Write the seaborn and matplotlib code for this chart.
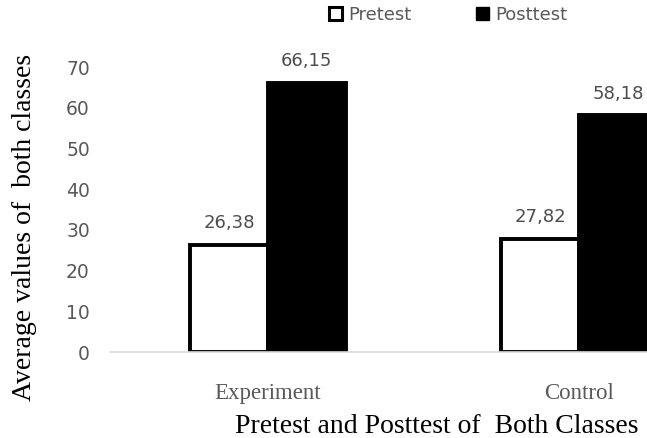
import matplotlib
matplotlib.use("Agg")
import matplotlib.pyplot as plt
import seaborn as sns
import pandas as pd
from matplotlib.patches import Patch

# Mean scores of both classes
classes = ["Experiment", "Control"]
tests = ["Pretest", "Posttest"]
pretest = [26.38, 27.82]
posttest = [66.15, 58.18]
y_ticks = [0, 10, 20, 30, 40, 50, 60, 70]

df = pd.DataFrame({
    "Class": classes * 2,
    "Test": [tests[0]] * len(classes) + [tests[1]] * len(classes),
    "Score": pretest + posttest,
})

sns.set_theme(style="white")
plt.rcParams["font.family"] = ["DejaVu Sans"]

fig = plt.figure(figsize=(6.47, 4.38), dpi=100)
ax = fig.add_axes([0.170, 0.1963, 0.830, 0.6507])

sns.barplot(data=df, x="Class", y="Score", hue="Test", order=classes,
            hue_order=tests, palette=["white", "black"], width=0.5,
            edgecolor="black", linewidth=2.8, errorbar=None, ax=ax,
            legend=False)

ax.set_xlim(-0.508, 1.219)
ax.set_ylim(0, 70)
ax.set_yticks(y_ticks)
ax.set_yticklabels([str(t) for t in y_ticks], color="#595959", fontsize=13.5)
ax.tick_params(axis="y", length=0, pad=14.5)
ax.tick_params(axis="x", length=0, pad=22)
for lab in ax.get_xticklabels():
    lab.set_fontfamily("Liberation Serif")
    lab.set_fontsize(16.5)
    lab.set_color("#595959")

for side in ["left", "right", "top"]:
    ax.spines[side].set_visible(False)
ax.spines["bottom"].set_color("#d9d9d9")
ax.spines["bottom"].set_linewidth(1.2)

# Value labels with comma decimals
for cont in ax.containers:
    vals = [b.get_height() for b in cont]
    ax.bar_label(cont, labels=[f"{v:.2f}".replace(".", ",") for v in vals],
                 padding=9, fontsize=13, color="#4d4d4d", clip_on=False)

ax.set_xlabel("Pretest and Posttest of  Both Classes", fontfamily="Liberation Serif",
              fontsize=20, color="black", va="center", ha="center")
ax.xaxis.set_label_coords(0.609, -0.262)
ax.set_ylabel("Average values of  both classes", fontfamily="Liberation Serif",
              fontsize=20, color="black", va="center", ha="center")
ax.yaxis.set_label_coords(-0.160, 0.4386)

handles = [Patch(facecolor="white", edgecolor="black", linewidth=2.2, label="Pretest"),
           Patch(facecolor="black", edgecolor="black", label="Posttest")]
fig.legend(handles=handles, loc="center", bbox_to_anchor=(0.693, 0.966), ncol=2,
           frameon=False, fontsize=13, handlelength=0.7, handleheight=0.7,
           handletextpad=0.35, columnspacing=3.6, labelcolor="#595959")

fig.savefig("out.png", dpi=100)
